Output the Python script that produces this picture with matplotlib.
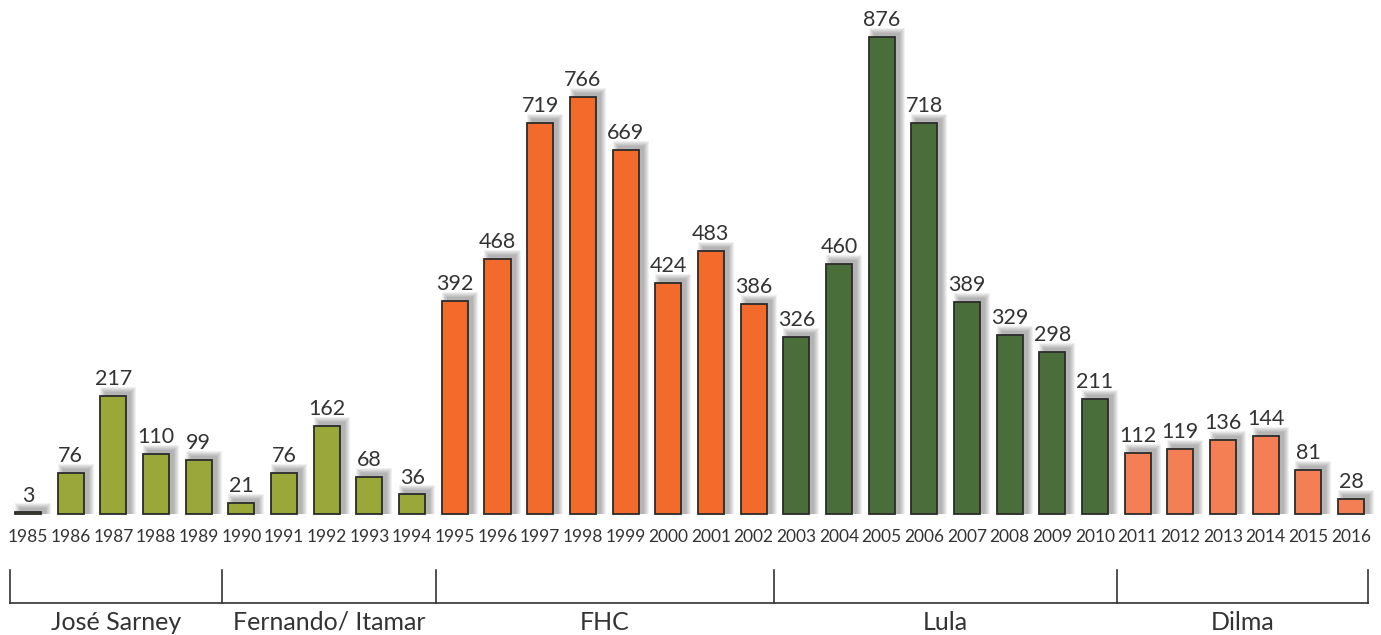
import matplotlib
matplotlib.use("Agg")
import matplotlib.pyplot as plt
from matplotlib.patches import Rectangle

years = list(range(1985, 2017))
values = [3, 76, 217, 110, 99, 21, 76, 162, 68, 36,
          392, 468, 719, 766, 669, 424, 483, 386,
          326, 460, 876, 718, 389, 329, 298, 211,
          112, 119, 136, 144, 81, 28]
groups = ["José Sarney", "Fernando/ Itamar", "FHC", "Lula", "Dilma"]
group_sizes = [5, 5, 8, 8, 6]
group_colors = ["#9AA83A", "#9AA83A", "#F26B2A", "#4A6E3A", "#F47F55"]

plt.rcParams['font.family'] = ['Lato', 'DejaVu Sans']
txt = "#333333"

fig = plt.figure(figsize=(13.81, 6.35), dpi=100)
ax = fig.add_axes([0, 0, 1, 1])
ax.set_xlim(-0.656, 31.70)
ax.set_ylim(-222, 944)
ax.axis("off")

colors = []
for c, n in zip(group_colors, group_sizes):
    colors += [c] * n

x = list(range(len(years)))
w = 0.61
px_x = 1 / 42.68
px_y = 1 / 0.5445

# blurred shadows
for xi, v in zip(x, values):
    for r in range(0, 6):
        dx = 5 * px_x
        ax.add_patch(Rectangle((xi - w / 2 + dx - r * px_x, 0),
                               w + 2 * r * px_x, v + 4 * px_y + r * px_y,
                               facecolor="#444444", alpha=0.08, lw=0, zorder=1))

ax.bar(x, values, width=w, color=colors, edgecolor="#2b2b2b", linewidth=1.3, zorder=3)

for xi, v in zip(x, values):
    ax.annotate(str(v), (xi, v), xytext=(0, 5), textcoords="offset points",
                ha="center", va="bottom", fontsize=15.5, color=txt, zorder=4)

for xi, yr in zip(x, years):
    ax.text(xi, -42, str(yr), ha="center", va="center", fontsize=12.5, color=txt)

# group brackets
edges = [-0.42, 4.55, 9.56, 17.48, 25.52, 31.4]
ax.plot([edges[0], edges[-1]], [-163, -163], color=txt, lw=1.2, clip_on=False)
for e in edges:
    ax.plot([e, e], [-103, -163], color=txt, lw=1.2, clip_on=False)
for i, g in enumerate(groups):
    ax.text((edges[i] + edges[i + 1]) / 2, -199, g, ha="center", va="center",
            fontsize=18, color=txt)

fig.savefig("out.png", dpi=100)
